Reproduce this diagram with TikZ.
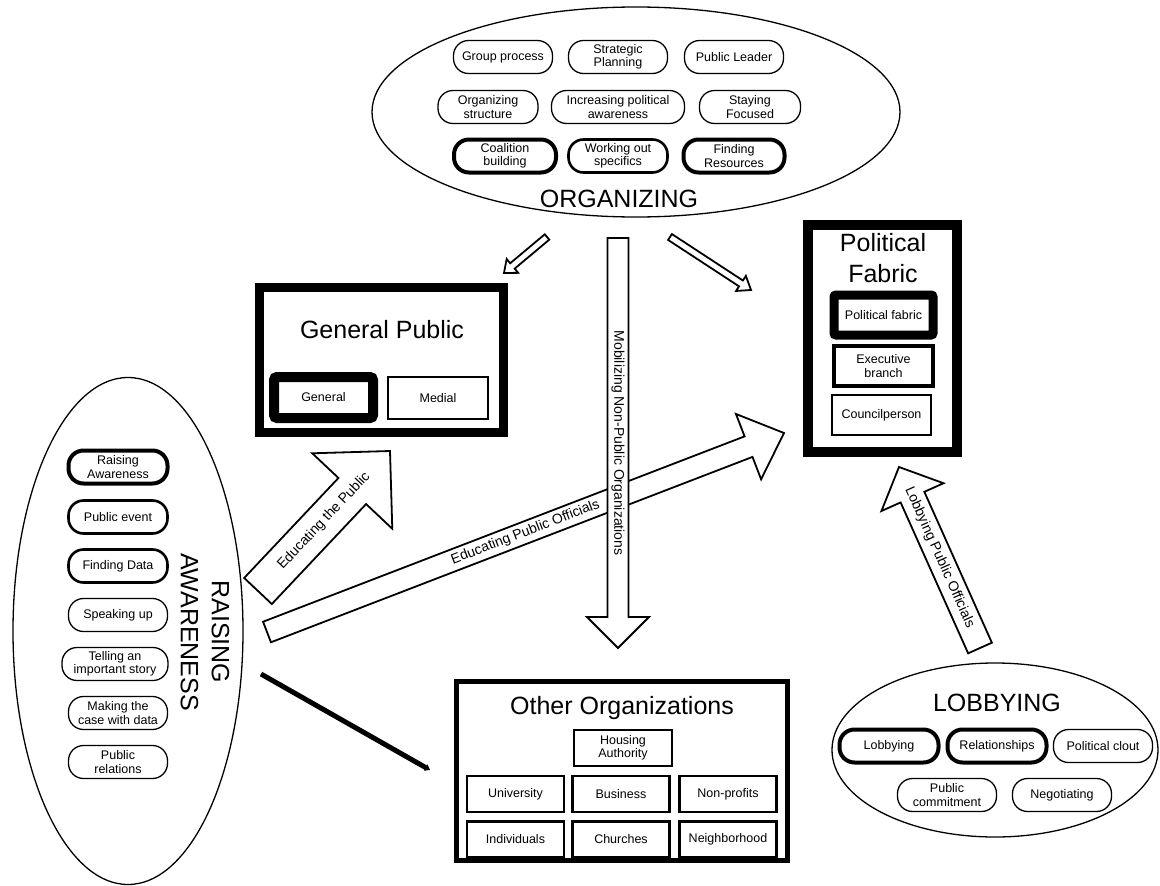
\documentclass[tikz,border=0pt]{standalone}
\usepackage{fontspec}
\setmainfont{Liberation Sans}
\usetikzlibrary{shapes.geometric,calc,arrows.meta}
\newcommand\pilltxt{\fontsize{12.5}{13.5}\selectfont}
\newcommand\bigtxt{\fontsize{25}{31}\selectfont}
\newcommand\arrtxt{\fontsize{14}{16}\selectfont}
\newcommand\blockarrow[5]{%
  \coordinate (ba-h) at ($(#2)!#5!(#1)$);
  \draw[barrow] ($(#1)!#3!90:(#2)$) -- ($(ba-h)!#3!90:(#2)$) -- ($(ba-h)!#4!90:(#2)$) -- (#2)
    -- ($(ba-h)!#4!-90:(#2)$) -- ($(ba-h)!#3!-90:(#2)$) -- ($(#1)!#3!-90:(#2)$) -- cycle;
}
\tikzset{
  pill/.style={draw, rounded corners=15pt, minimum height=33pt, minimum width=99pt, inner sep=0pt, align=center, font=\pilltxt, line width=1.3pt},
  pillmid/.style={pill, line width=2.6pt},
  pillthick/.style={pill, line width=4pt},
  bigoval/.style={draw, ellipse, inner sep=0pt, line width=1.3pt},
  biglabel/.style={font=\bigtxt, align=center, inner sep=0pt},
  frame/.style={draw, inner sep=0pt},
  sbox/.style={draw, inner sep=0pt, align=center, font=\pilltxt, minimum width=99pt, minimum height=36pt, line width=2.5pt},
  barrow/.style={draw, fill=white, line width=1.8pt, line join=miter},
  arrlabel/.style={font=\arrtxt, inner sep=0pt}
}
\begin{document}
\begin{tikzpicture}[x=1pt,y=-1pt]
\useasboundingbox (0,0) rectangle (1160,886);
\fill[white] (0,0) rectangle (1160,886);

% ---------- ORGANIZING ----------
\node[bigoval, minimum width=528pt, minimum height=210pt] (org) at (636,112) {};
\node[pill] (o1) at (503,57) {Group process};
\node[pill] (o2) at (618,57) {Strategic\\Planning};
\node[pill] (o3) at (734,57) {Public Leader};
\node[pill, minimum width=100pt] (o4) at (488,107) {Organizing\\structure};
\node[pill, minimum width=133pt] (o5) at (618,107) {Increasing political\\awareness};
\node[pill, minimum width=101pt] (o6) at (750,107) {Staying\\Focused};
\node[pillthick, minimum width=102pt] (o7) at (505,156) {Coalition\\building};
\node[pillmid] (o8) at (618,156) {Working out\\specifics};
\node[pillthick, minimum width=101pt] (o9) at (734,156) {Finding\\Resources};
\node[biglabel] (orglbl) at (619,199) {ORGANIZING};

% ---------- RAISING AWARENESS ----------
\node[bigoval, minimum width=230pt, minimum height=507pt] (rae) at (128,631) {};
\node[pillthick] (r1) at (118,467) {Raising\\Awareness};
\node[pillmid] (r2) at (118,517) {Public event};
\node[pillmid] (r3) at (118,566) {Finding Data};
\node[pill] (r4) at (118,615) {Speaking up};
\node[pill, minimum width=106pt] (r5) at (115,664) {Telling an\\important story};
\node[pill] (r6) at (118,713) {Making the\\case with data};
\node[pill] (r7) at (118,762) {Public\\relations};
\node[biglabel, rotate=-90] (ralbl) at (205,632) {RAISING\\AWARENESS};

% ---------- LOBBYING ----------
\node[bigoval, minimum width=326pt, minimum height=174pt] (lobe) at (995,750) {};
\node[biglabel] (loblbl) at (997,703) {LOBBYING};
\node[pillthick] (l1) at (889,746) {Lobbying};
\node[pillthick] (l2) at (997,746) {Relationships};
\node[pill] (l3) at (1103,746) {Political clout};
\node[pill] (l4) at (947,795) {Public\\commitment};
\node[pill] (l5) at (1062,795) {Negotiating};

% ---------- GENERAL PUBLIC ----------
\node[frame, line width=9pt, minimum width=244pt, minimum height=145pt] (gp) at (381.5,360) {};
\node[biglabel] (gplbl) at (382,330) {General Public};
\node[sbox, line width=10pt, rounded corners=3pt, minimum height=41pt] (gp1) at (323.5,397.5) {General};
\node[sbox, minimum width=100pt, minimum height=42pt] (gp2) at (438,398) {Medial};

% ---------- POLITICAL FABRIC ----------
\node[frame, line width=10pt, minimum width=149pt, minimum height=227pt] (pf) at (882.5,338.5) {};
\node[biglabel] (pflbl) at (883,258) {Political\\Fabric};
\node[sbox, line width=9pt, rounded corners=2pt, minimum height=40pt] (pf1) at (883.5,315) {Political fabric};
\node[sbox, line width=3.5pt, minimum height=40pt] (pf2) at (883.5,366) {Executive\\branch};
\node[sbox, line width=2pt, minimum height=40pt] (pf3) at (881.5,415) {Councilperson};

% ---------- OTHER ORGANIZATIONS ----------
\node[frame, line width=5pt, minimum width=331pt, minimum height=179pt] (oo) at (622,771) {};
\node[biglabel] (oolbl) at (622,708) {Other Organizations};
\node[sbox, minimum width=98pt] (oo0) at (623,748) {Housing\\Authority};
\node[sbox, minimum width=97pt] (oo1) at (515.5,794) {University};
\node[sbox, minimum width=97pt] (oo2) at (621,794) {Business};
\node[sbox, minimum width=97pt] (oo3) at (728,794) {Non-profits};
\node[sbox, minimum width=97pt] (oo4) at (515.5,839.5) {Individuals};
\node[sbox, minimum width=97pt] (oo5) at (621,839.5) {Churches};
\node[sbox, minimum width=97pt] (oo6) at (728,839.5) {Neighborhood};

% ---------- ARROWS ----------
\coordinate (smlT) at (547,237); \coordinate (smlH) at (504,273);
\coordinate (smrT) at (670,237); \coordinate (smrH) at (751,290);
\coordinate (offT) at (267,632); \coordinate (offH) at (784,433);
\coordinate (mobT) at (618,238); \coordinate (mobH) at (618,648);
\coordinate (pubT) at (258,591); \coordinate (pubH) at (390,451);
\coordinate (lobT) at (980,648); \coordinate (lobH) at (899,467);
\coordinate (blkS) at (261,674); \coordinate (blkE) at (430,770);

\blockarrow{smlT}{smlH}{3.5pt}{9pt}{11pt}
\blockarrow{smrT}{smrH}{3.5pt}{9pt}{12pt}
\blockarrow{offT}{offH}{11pt}{35pt}{38pt}
\node[arrlabel, rotate=21.05] (offlbl) at ($(offT)!0.5!(offH)$) {Educating Public Officials};
\blockarrow{mobT}{mobH}{10.5pt}{31pt}{31pt}
\node[arrlabel, rotate=-90] (moblbl) at ($(mobT)!0.5!(mobH)$) {Mobilizing Non-Public Organizations};
\blockarrow{pubT}{pubH}{19pt}{55pt}{55pt}
\node[arrlabel, rotate=46.7] (publbl) at ($(pubT)!0.5!(pubH)$) {Educating the Public};
\blockarrow{lobT}{lobH}{13pt}{34pt}{33pt}
\node[arrlabel, rotate=-65.9] (loblbl2) at ($(lobT)!0.5!(lobH)$) {Lobbying Public Officials};

\draw[line width=5pt, -{Triangle[length=5pt,width=7pt]}] (blkS) -- (blkE);
\end{tikzpicture}
\end{document}
